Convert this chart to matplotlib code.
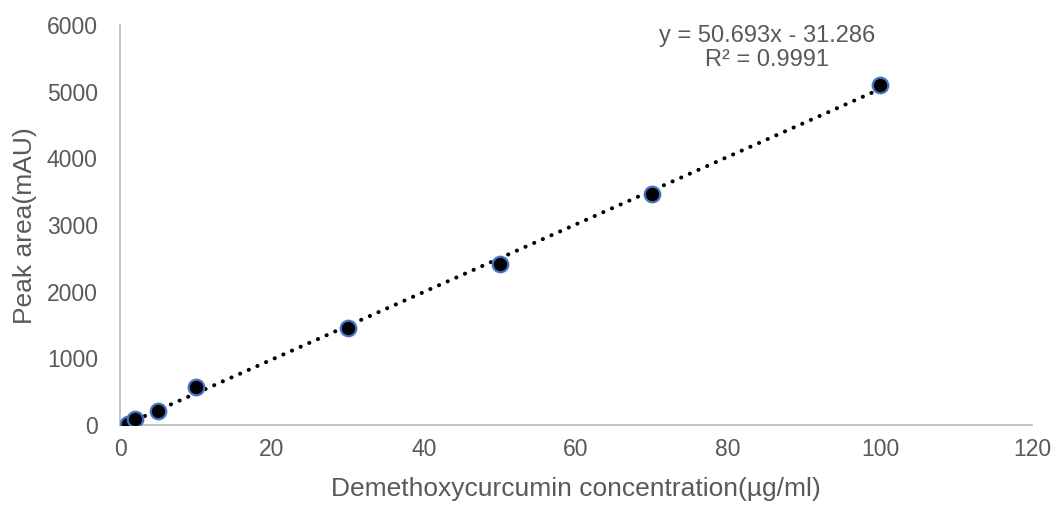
import numpy as np
import matplotlib
matplotlib.use("Agg")
import matplotlib.pyplot as plt

plt.rcParams['font.family'] = ['Liberation Sans', 'DejaVu Sans']

# Calibration data: concentration (µg/ml) vs peak area (mAU)
concentration = [1, 2, 5, 10, 30, 50, 70, 100]
peak_area = [20, 95, 210, 570, 1455, 2420, 3465, 5095]

# Linear trendline coefficients
slope = 50.693
intercept = -31.286
r_squared = 0.9991

x_ticks = [0, 20, 40, 60, 80, 100, 120]
y_ticks = [0, 1000, 2000, 3000, 4000, 5000, 6000]

W, H = 1057, 507
fig = plt.figure(figsize=(W / 100, H / 100), dpi=100)
ax = fig.add_axes([120 / W, (H - 425) / H, (1032 - 120) / W, (425 - 25) / H])

grey_text = '#595959'
spine_col = '#BFBFBF'

xs = np.array([min(concentration), max(concentration)])
ax.plot(xs, slope * xs + intercept, color='black', linestyle=(0, (0.05, 2.3)),
        linewidth=2.9, dash_capstyle='round', zorder=3)

ax.scatter(concentration, peak_area, s=125, c='black', edgecolors='#4472C4',
           linewidths=1.6, zorder=4)

ax.set_xlim(0, 120)
ax.set_ylim(0, 6000)
ax.set_xticks(x_ticks)
ax.set_yticks(y_ticks)
ax.tick_params(length=0, labelsize=16.5, colors=grey_text)
ax.tick_params(axis='y', pad=16)
ax.tick_params(axis='x', pad=9)
ax.set_clip_on(False)

for side in ['top', 'right']:
    ax.spines[side].set_visible(False)
for side in ['left', 'bottom']:
    ax.spines[side].set_color(spine_col)
    ax.spines[side].set_linewidth(1.3)

ax.set_xlabel('Demethoxycurcumin concentration(µg/ml)', fontsize=19,
              color=grey_text)
ax.set_ylabel('Peak area(mAU)', fontsize=19, color=grey_text)
ax.xaxis.set_label_coords(576 / W, 1 - 489 / H, transform=fig.transFigure)
ax.yaxis.set_label_coords(25 / W, 1 - 226 / H, transform=fig.transFigure)
ax.xaxis.label.set_va('center')
ax.yaxis.label.set_va('center')

fig.text(767 / W, 1 - 36 / H, f'y = {slope}x - {abs(intercept)}',
         ha='center', va='center', fontsize=17, color=grey_text)
fig.text(767 / W, 1 - 60 / H, f'R² = {r_squared}',
         ha='center', va='center', fontsize=17, color=grey_text)

fig.savefig('out.png', dpi=100)
